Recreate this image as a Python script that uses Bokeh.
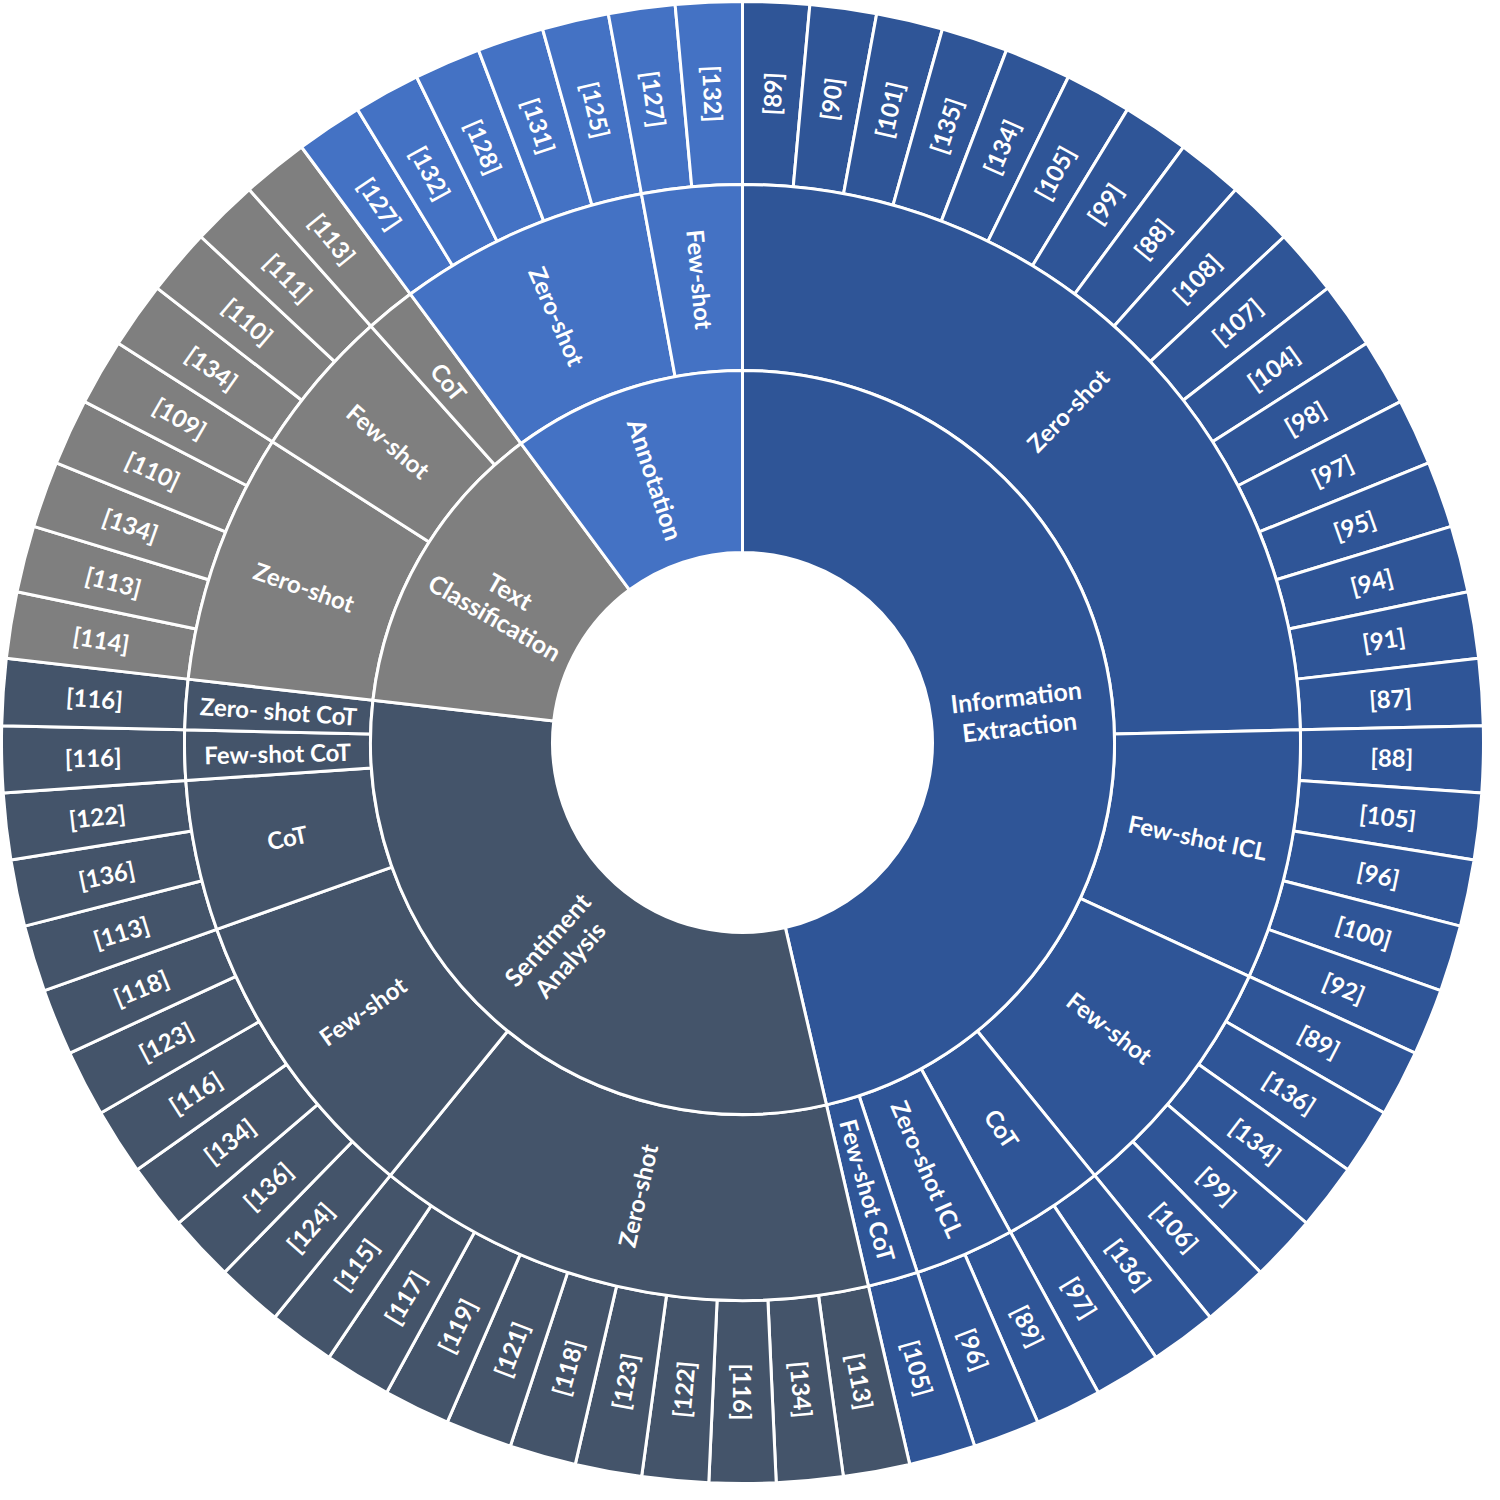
import math
from bokeh.plotting import figure
from bokeh.embed import file_html
from bokeh.resources import INLINE
from bokeh.core.properties import value
from bokeh.models import ColumnDataSource

# ---------------- data ----------------
categories = ["Information Extraction", "Sentiment Analysis", "Text Classification", "Annotation"]
category_colors = ["#2F5597", "#44546A", "#7F7F7F", "#4472C4"]
category_label_lines = [["Information", "Extraction"], ["Sentiment", "Analysis"],
                        ["Text", "Classification"], ["Annotation"]]

ie_methods = ["Zero-shot", "Few-shot ICL", "Few-shot", "CoT", "Zero-shot ICL", "Few-shot CoT"]
ie_refs = [
    ["[89]", "[90]", "[101]", "[135]", "[134]", "[105]", "[99]", "[88]", "[108]", "[107]",
     "[104]", "[98]", "[97]", "[95]", "[94]", "[91]", "[87]"],
    ["[88]", "[105]", "[96]", "[100]", "[92]"],
    ["[89]", "[136]", "[134]", "[99]", "[106]"],
    ["[136]", "[97]"],
    ["[89]", "[96]"],
    ["[105]"],
]

sa_methods = ["Zero-shot", "Few-shot", "CoT", "Few-shot CoT", "Zero- shot CoT"]
sa_refs = [
    ["[113]", "[134]", "[116]", "[122]", "[123]", "[118]", "[121]", "[119]", "[117]", "[115]"],
    ["[124]", "[136]", "[134]", "[116]", "[123]", "[118]"],
    ["[113]", "[136]", "[122]"],
    ["[116]"],
    ["[116]"],
]

tc_methods = ["Zero-shot", "Few-shot", "CoT"]
tc_refs = [
    ["[114]", "[113]", "[134]", "[110]", "[109]"],
    ["[134]", "[110]", "[111]"],
    ["[113]"],
]

an_methods = ["Zero-shot", "Few-shot"]
an_refs = [
    ["[127]", "[132]", "[128]", "[131]", "[125]"],
    ["[127]", "[132]"],
]

all_methods = [ie_methods, sa_methods, tc_methods, an_methods]
all_refs = [ie_refs, sa_refs, tc_refs, an_refs]

# ---------------- geometry ----------------
R0, R1, R2, R3 = 190, 372, 558, 741
FONT = value("Lato")

n_leaves = sum(len(r) for refs in all_refs for r in refs)
step = 2 * math.pi / n_leaves


def rot_for(m):
    m = math.atan2(math.sin(m), math.cos(m))
    if -math.pi / 2 - 1e-6 <= m <= math.pi / 2 + 1e-6:
        return m
    return m + math.pi


wedges = dict(start=[], end=[], inner=[], outer=[], color=[])
texts = dict(x=[], y=[], text=[], angle=[], size=[])


def add_wedge(a_hi, a_lo, ri, ro, color):
    wedges["start"].append(a_lo)
    wedges["end"].append(a_hi)
    wedges["inner"].append(ri)
    wedges["outer"].append(ro)
    wedges["color"].append(color)


def add_text(lines, a_mid, r, size, spacing=30):
    rot = rot_for(a_mid)
    cx, cy = r * math.cos(a_mid), r * math.sin(a_mid)
    nx, ny = -math.sin(rot), math.cos(rot)
    k = len(lines)
    for i, t in enumerate(lines):
        off = ((k - 1) / 2 - i) * spacing
        texts["x"].append(cx + nx * off)
        texts["y"].append(cy + ny * off)
        texts["text"].append(t)
        texts["angle"].append(rot)
        texts["size"].append(size)


a = math.pi / 2
for ci, cat in enumerate(categories):
    col = category_colors[ci]
    cat_start = a
    for mi, meth in enumerate(all_methods[ci]):
        m_start = a
        for ref in all_refs[ci][mi]:
            a_next = a - step
            add_wedge(a, a_next, R2, R3, col)
            add_text([ref], (a + a_next) / 2, (R2 + R3) / 2, "24px")
            a = a_next
        add_wedge(m_start, a, R1, R2, col)
        add_text([meth], (m_start + a) / 2, (R1 + R2) / 2, "24px")
    add_wedge(cat_start, a, R0, R1, col)
    add_text(category_label_lines[ci], (cat_start + a) / 2, (R0 + R1) / 2 - 4, "25px")

# ---------------- figure ----------------
p = figure(width=1484, height=1484, x_range=(-742, 742), y_range=(-742, 742),
           output_backend="svg", toolbar_location=None, min_border=0)
p.axis.visible = False
p.grid.visible = False
p.outline_line_color = None
p.background_fill_color = "white"
p.border_fill_color = "white"

ws = ColumnDataSource(wedges)
p.annular_wedge(x=0, y=0, inner_radius="inner", outer_radius="outer",
                start_angle="start", end_angle="end", direction="anticlock",
                fill_color="color", line_color="white", line_width=3, source=ws)

ts = ColumnDataSource(texts)
p.text(x="x", y="y", text="text", angle="angle", text_font_size="size",
       text_font=FONT, text_font_style="bold", text_color="white",
       text_align="center", text_baseline="middle", source=ts)

open("out.html", "w").write(file_html(p, INLINE))
